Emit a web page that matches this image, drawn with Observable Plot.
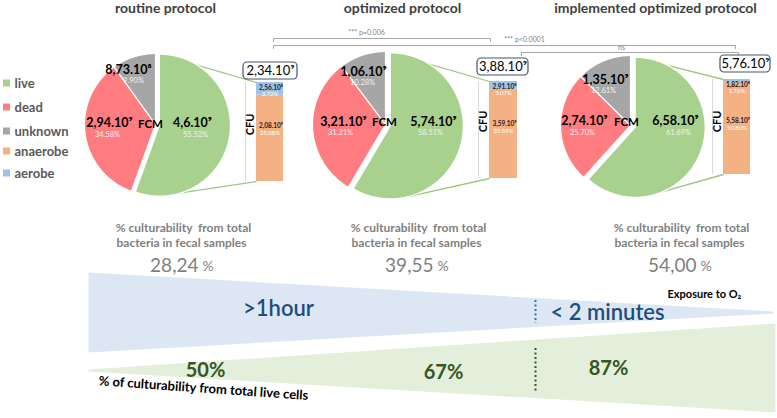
<!DOCTYPE html>
<html>
<head>
<meta charset="utf-8">
<script src="https://cdn.jsdelivr.net/npm/d3@7"></script>
<script src="https://cdn.jsdelivr.net/npm/@observablehq/plot@0.6"></script>
<style>
  html, body { margin: 0; padding: 0; background: #fff; }
  #chart { width: 777px; height: 418px; }
  #chart svg text { font-family: Lato, "Open Sans", sans-serif; }
</style>
</head>
<body>
<div id="chart"></div>
<script>
// ---------------- DATA ----------------
const protocols = ["routine protocol", "optimized protocol", "implemented optimized protocol"];
const legendLabels = ["live", "dead", "unknown", "anaerobe", "aerobe"];
const fcmCategories = ["live", "dead", "unknown"];
const livePct = [55.52, 58.51, 61.69];
const deadPct = [34.58, 31.21, 25.70];
const unknownPct = [9.90, 10.28, 12.61];
const liveLabels = ["4,6.10⁹", "5,74.10⁹", "6,58.10⁹"];
const deadLabels = ["2,94.10⁹", "3,21.10⁹", "2,74.10⁹"];
const unknownLabels = ["8,73.10⁸", "1,06.10⁹", "1,35.10⁹"];
const cfuTotalLabels = ["2,34.10⁹", "3,88.10⁹", "5,76.10⁹"];
const anaerobePct = [25.08, 35.59, 50.80];
const aerobePct = [3.72, 3.07, 1.76];
const anaerobeLabels = ["2,08.10⁹", "3,59.10⁹", "5,58.10⁹"];
const aerobeLabels = ["2,56.10⁸", "2,91.10⁸", "1,82.10⁸"];
const culturabilityTotal = [28.24, 39.55, 54.00];
const culturabilityLive = [50, 67, 87];
const exposureLabels = [">1hour", "< 2 minutes"];
const comparisonLabels = ["*** p=0.006", "*** p<0.0001", "ns"];

// ---------------- LAYOUT / STYLE ----------------
const W = 777, H = 418;
const FONT = "Lato, 'Open Sans', sans-serif";
const colors = {live: "#a9d18e", dead: "#ff7c80", unknown: "#a6a6a6", anaerobe: "#f4b183", aerobe: "#9dc3e6"};
const pieCenters = [[155, 124], [385, 124], [630, 125]];
const pieR = [71, 73, 70];
const explode = [4, 5, 5];
const lowerConnectorDeg = [180, 165, 172];
const bars = [[256, 283, 82, 181], [489, 517, 81, 178], [723, 750, 79, 174]];
const boxes = [[243, 297, 62, 79], [477, 528, 58, 75], [720, 770, 55, 72]];
const titleX = [165, 402, 655];
const labelPos = [
  {unknown: [128, 69, 133, 80], dead: [109, 122, 107, 134], fcm: [150, 124], live: [192, 122, 195, 134]},
  {unknown: [363, 71, 362, 82], dead: [343, 121, 340, 132], fcm: [384, 122], live: [433, 121, 430, 132]},
  {unknown: [605, 79, 603, 90], dead: [584, 120, 582, 132], fcm: [626, 122], live: [675, 120, 678, 132]}
];
const legendY = [83, 107, 131, 151, 173];
const cultX = [183, 418, 681];
const liveCultPos = [[205, 370], [443, 372], [608, 368]];
const brackets = [[273, 490, 38, 366, 32], [273, 735, 45, 524, 39], [521, 738, 52, 621, 47]];

// ---------------- GEOMETRY from data ----------------
const slices = [];
const sliceLabels = [];
const connectors = [];
protocols.forEach((p, i) => {
  const vals = [livePct[i], deadPct[i], unknownPct[i]];
  const arcs = d3.pie().sort(null).value(d => d)(vals);
  const [cx, cy] = pieCenters[i];
  const r = pieR[i];
  arcs.forEach((a, k) => {
    const e = k === 0 ? explode[i] : 0;
    const mid = (a.startAngle + a.endAngle) / 2;
    const ox = cx + e * Math.sin(mid), oy = cy - e * Math.cos(mid);
    const id = p + "-" + fcmCategories[k];
    const fill = colors[fcmCategories[k]];
    const n = Math.ceil((a.endAngle - a.startAngle) / 0.02);
    slices.push({id, x: ox, y: oy, fill});
    for (let j = 0; j <= n; j++) {
      const t = a.startAngle + (a.endAngle - a.startAngle) * j / n;
      slices.push({id, x: ox + r * Math.sin(t), y: oy - r * Math.cos(t), fill});
    }
    slices.push({id, x: ox, y: oy, fill});
    if (k === 0) {
      const b = bars[i];
      const lo = lowerConnectorDeg[i] * Math.PI / 180;
      connectors.push({x1: ox + r * Math.sin(a.startAngle), y1: oy - r * Math.cos(a.startAngle), x2: b[0], y2: b[2]});
      connectors.push({x1: ox + r * Math.sin(lo), y1: oy - r * Math.cos(lo), x2: b[0], y2: b[3]});
    }
  });
  const L = labelPos[i];
  sliceLabels.push({x: L.live[0], y: L.live[1], text: liveLabels[i], kind: "value"});
  sliceLabels.push({x: L.live[2], y: L.live[3], text: livePct[i].toFixed(2) + "%", kind: "pct"});
  sliceLabels.push({x: L.dead[0], y: L.dead[1], text: deadLabels[i], kind: "value"});
  sliceLabels.push({x: L.dead[2], y: L.dead[3], text: deadPct[i].toFixed(2) + "%", kind: "pct"});
  sliceLabels.push({x: L.unknown[0], y: L.unknown[1], text: unknownLabels[i], kind: "value"});
  sliceLabels.push({x: L.unknown[2], y: L.unknown[3], text: unknownPct[i].toFixed(2) + "%", kind: "pct"});
  sliceLabels.push({x: L.fcm[0], y: L.fcm[1], text: "FCM", kind: "fcm"});
});

const barSegs = [];
const barTexts = [];
protocols.forEach((p, i) => {
  const [x1, x2, yt, yb] = bars[i];
  const total = anaerobePct[i] + aerobePct[i];
  const ys = d3.scaleLinear().domain([0, total]).range([yb, yt]);
  barSegs.push({x1, x2, y1: ys(0), y2: ys(anaerobePct[i]), fill: colors.anaerobe});
  barSegs.push({x1, x2, y1: ys(anaerobePct[i]), y2: ys(total), fill: colors.aerobe});
  const xc = (x1 + x2) / 2, ym = (yt + yb) / 2;
  barTexts.push({x: xc + 1, y: yt + 5, text: aerobeLabels[i], kind: "value"});
  barTexts.push({x: xc, y: yt + 12, text: aerobePct[i].toFixed(2) + "%", kind: "pct"});
  barTexts.push({x: xc + 1, y: ym - 6, text: anaerobeLabels[i], kind: "value"});
  barTexts.push({x: xc, y: ym + 1, text: anaerobePct[i].toFixed(2) + "%", kind: "pct"});
});

const wedges = [
  {id: "exposure", x: 88, y: 272, fill: "#dde7f3"}, {id: "exposure", x: 773, y: 311, fill: "#dde7f3"},
  {id: "exposure", x: 773, y: 313, fill: "#dde7f3"}, {id: "exposure", x: 88, y: 352, fill: "#dde7f3"},
  {id: "live", x: 88, y: 369, fill: "#e3efdb"}, {id: "live", x: 775, y: 323, fill: "#e3efdb"},
  {id: "live", x: 775, y: 412, fill: "#e3efdb"}, {id: "live", x: 88, y: 371, fill: "#e3efdb"}
];

const bracketLines = [];
brackets.forEach((b, k) => {
  const [x1, x2, y] = b;
  [[x1, y + 3], [x1, y], [x2, y], [x2, y + 3]].forEach(([x, yy]) => bracketLines.push({id: k, x, y: yy}));
});

const legendItems = legendLabels.map((l, k) => ({label: l, y: legendY[k], fill: colors[l]}));

const fmtComma = v => v.toFixed(2).replace(".", ",");
const T = (data, opts) => Plot.text(data, {fontFamily: FONT, ...opts});

const chart = Plot.plot({
  width: W, height: H,
  margin: 0,
  x: {domain: [0, W], range: [0, W], axis: null},
  y: {domain: [0, H], range: [0, H], axis: null},
  style: {fontFamily: FONT, background: "white", overflow: "visible"},
  marks: [
    // background wedges
    Plot.line(wedges, {x: "x", y: "y", z: "id", fill: "fill", stroke: "none"}),
    Plot.ruleX([535], {y1: 300, y2: 323, stroke: "#2e75b6", strokeWidth: 2, strokeDasharray: "2,2.5"}),
    Plot.ruleX([535], {y1: 348, y2: 392, stroke: "#375623", strokeWidth: 2, strokeDasharray: "2,2.5"}),
    // titles
    T(protocols, {x: (d, i) => titleX[i], y: 8, text: d => d, fontSize: 14, fontWeight: "bold", fill: "#404040"}),
    // brackets
    Plot.line(bracketLines, {x: "x", y: "y", z: "id", stroke: "#a6a6a6", strokeWidth: 1}),
    T(comparisonLabels, {x: (d, i) => brackets[i][3], y: (d, i) => brackets[i][4], text: d => d, fontSize: 7, fill: "#808080"}),
    // legend
    Plot.rect(legendItems, {x1: 3, x2: 10, y1: d => d.y - 3.5, y2: d => d.y + 3.5, fill: "fill"}),
    T(legendItems, {x: 14, y: "y", text: "label", textAnchor: "start", fontSize: 13, fontWeight: "bold", fill: "#595959"}),
    // connectors
    Plot.link(connectors, {x1: "x1", y1: "y1", x2: "x2", y2: "y2", stroke: "#9cc97e", strokeWidth: 1.3}),
    // pies
    Plot.line(slices, {x: "x", y: "y", z: "id", fill: "fill", stroke: "white", strokeWidth: 1.2, strokeLinejoin: "round"}),
    T(sliceLabels.filter(d => d.kind === "value"), {x: "x", y: "y", text: "text", fontSize: 12.5, fontWeight: "bold", fill: "#000"}),
    T(sliceLabels.filter(d => d.kind === "pct"), {x: "x", y: "y", text: "text", fontSize: 7.5, fill: "#f2f2f2"}),
    T(sliceLabels.filter(d => d.kind === "fcm"), {x: "x", y: "y", text: "text", fontSize: 11.5, fontWeight: "bold", fill: "#000"}),
    // bars
    Plot.ruleX(bars, {x: d => d[0] - 11, y1: d => d[2], y2: d => d[3], stroke: "#d9d9d9", strokeWidth: 1}),
    T(bars, {x: d => d[0] - 6, y: (d, i) => i === 0 ? 124 : 121, text: () => "CFU", rotate: -90, fontSize: 11, fontWeight: "bold", fill: "#000"}),
    Plot.rect(barSegs, {x1: "x1", x2: "x2", y1: "y1", y2: "y2", fill: "fill"}),
    T(barTexts.filter(d => d.kind === "value"), {x: "x", y: "y", text: "text", fontSize: 6.5, fontWeight: "bold", fill: "#1a1a2e"}),
    T(barTexts.filter(d => d.kind === "pct"), {x: "x", y: "y", text: "text", fontSize: 6, fill: "#ffffff"}),
    Plot.rect(boxes, {x1: d => d[0], x2: d => d[1], y1: d => d[2], y2: d => d[3], rx: 4, fill: "white", stroke: "#44546a", strokeWidth: 1.2}),
    T(cfuTotalLabels, {x: (d, i) => (boxes[i][0] + boxes[i][1]) / 2, y: (d, i) => (boxes[i][2] + boxes[i][3]) / 2, text: d => d, fontSize: 13, fill: "#000"}),
    // culturability texts
    T(protocols, {x: (d, i) => cultX[i], y: 228, text: () => "% culturability  from total", fontSize: 12, fontWeight: "bold", fill: "#7f7f7f"}),
    T(protocols, {x: (d, i) => cultX[i] - 2, y: 243, text: () => "bacteria in fecal samples", fontSize: 12, fontWeight: "bold", fill: "#7f7f7f"}),
    T(culturabilityTotal, {x: (d, i) => cultX[i] + 15, y: 265, text: d => fmtComma(d), textAnchor: "end", fontSize: 19, fill: "#7f7f7f"}),
    T(culturabilityTotal, {x: (d, i) => cultX[i] + 19, y: 266, text: () => "%", textAnchor: "start", fontSize: 14, fill: "#7f7f7f"}),
    // exposure texts
    T([exposureLabels[0]], {x: 278, y: 308, text: d => d, fontSize: 22, fontWeight: 600, fill: "#1f4e79"}),
    T([exposureLabels[1]], {x: 550, y: 312, text: d => d, textAnchor: "start", fontSize: 22, fontWeight: 600, fill: "#1f4e79"}),
    T(["Exposure to O₂"], {x: 667, y: 294, text: d => d, textAnchor: "start", fontSize: 11, fontWeight: "bold", fill: "#000"}),
    // live culturability
    T(culturabilityLive, {x: (d, i) => liveCultPos[i][0], y: (d, i) => liveCultPos[i][1], text: d => d + "%", fontSize: 20, fontWeight: "bold", fill: "#375623"}),
    T(["% of culturability from total live cells"], {x: 203, y: 388, text: d => d, rotate: 4, fontSize: 13, fontWeight: "bold", fill: "#000"})
  ]
});
document.getElementById("chart").appendChild(chart);
</script>
</body>
</html>
